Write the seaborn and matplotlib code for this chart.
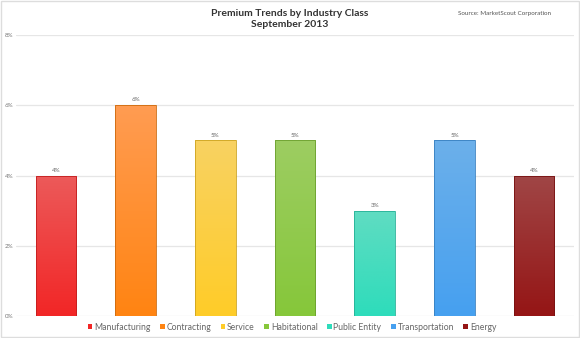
import numpy as np
import pandas as pd
import matplotlib
matplotlib.use("Agg")
import matplotlib.pyplot as plt
import seaborn as sns
from matplotlib.patches import Patch, Rectangle
from matplotlib.colors import LinearSegmentedColormap

categories = ["Manufacturing", "Contracting", "Service", "Habitational",
              "Public Entity", "Transportation", "Energy"]
values = [4, 6, 5, 5, 3, 5, 4]
top_colors = ["#EC5A5A", "#FF9C52", "#F8D262", "#9DCD62", "#60DCC2", "#6CB0EA", "#A04646"]
bottom_colors = ["#F22626", "#FF8412", "#FFCC28", "#86C73A", "#2EDCBB", "#46A0F0", "#951515"]
y_ticks = [0, 2, 4, 6, 8]
title = "Premium Trends by Industry Class\nSeptember 2013"
source = "Source: MarketScout Corporation"

sns.set_theme(style="white")
plt.rcParams['font.family'] = ['Lato', 'DejaVu Sans']

df = pd.DataFrame({"category": categories, "value": values})

fig = plt.figure(figsize=(5.8, 3.38), dpi=100)
fig.patch.set_facecolor("white")
ax = fig.add_axes([16/580, 22/338, 558/580, 281/338])

sns.barplot(data=df, x="category", y="value", hue="category", palette=bottom_colors,
            width=0.51, ax=ax, legend=False, saturation=1)

ax.set_ylim(0, 8)
ax.set_xlim(-0.5, len(categories) - 0.5)
ax.set_yticks(y_ticks)
ax.set_yticklabels([f"{t}%" for t in y_ticks], fontsize=4.5, color="#777777")
ax.tick_params(axis="y", length=0, pad=2)
ax.set_xticks([])
ax.set_xlabel("")
ax.set_ylabel("")
for s in ax.spines.values():
    s.set_visible(False)
ax.yaxis.grid(True, color="#E6E6E6", linewidth=0.9)
ax.set_axisbelow(True)

for patch, tc, bc, v in zip(ax.patches, top_colors, bottom_colors, values):
    x0, y0 = patch.get_x(), patch.get_y()
    w, h = patch.get_width(), patch.get_height()
    cmap = LinearSegmentedColormap.from_list("g", [bc, tc])
    grad = np.linspace(0, 1, 256).reshape(-1, 1)
    im = ax.imshow(grad, cmap=cmap, aspect="auto", origin="lower",
                   extent=[x0, x0 + w, y0, y0 + h], zorder=2)
    im.set_clip_path(patch)
    patch.set_edgecolor(matplotlib.colors.to_hex(np.array(matplotlib.colors.to_rgb(bc)) * 0.8))
    patch.set_linewidth(0.6)
    patch.set_zorder(3)
    patch.set_facecolor("none")
    ax.text(x0 + w / 2, y0 + h + 0.08, f"{v}%", ha="center", va="bottom",
            fontsize=4.5, color="#666666")
ax.set_xlim(-0.5, len(categories) - 0.5)
ax.set_ylim(0, 8)

fig.text(0.5, 1 - 19/338, title, ha="center", va="center", fontsize=7.5,
         fontweight="bold", color="#333333", linespacing=1.2)
fig.text(504/580, 1 - 14/338, source, ha="center", va="center", fontsize=4.5, color="#555555")

handles = [Patch(facecolor=c, edgecolor="none") for c in bottom_colors]
fig.legend(handles, categories, loc="center", bbox_to_anchor=(292/580, 1 - 327/338),
           ncol=7, frameon=False, fontsize=6.2, handlelength=0.55, handleheight=0.55,
           handletextpad=0.2, columnspacing=1.1, labelcolor="#666666")

fig.add_artist(Rectangle((0.002, 0.003), 0.996, 0.994, transform=fig.transFigure,
                         fill=False, edgecolor="#DDDDDD", linewidth=1))

fig.savefig("out.png", dpi=100)
